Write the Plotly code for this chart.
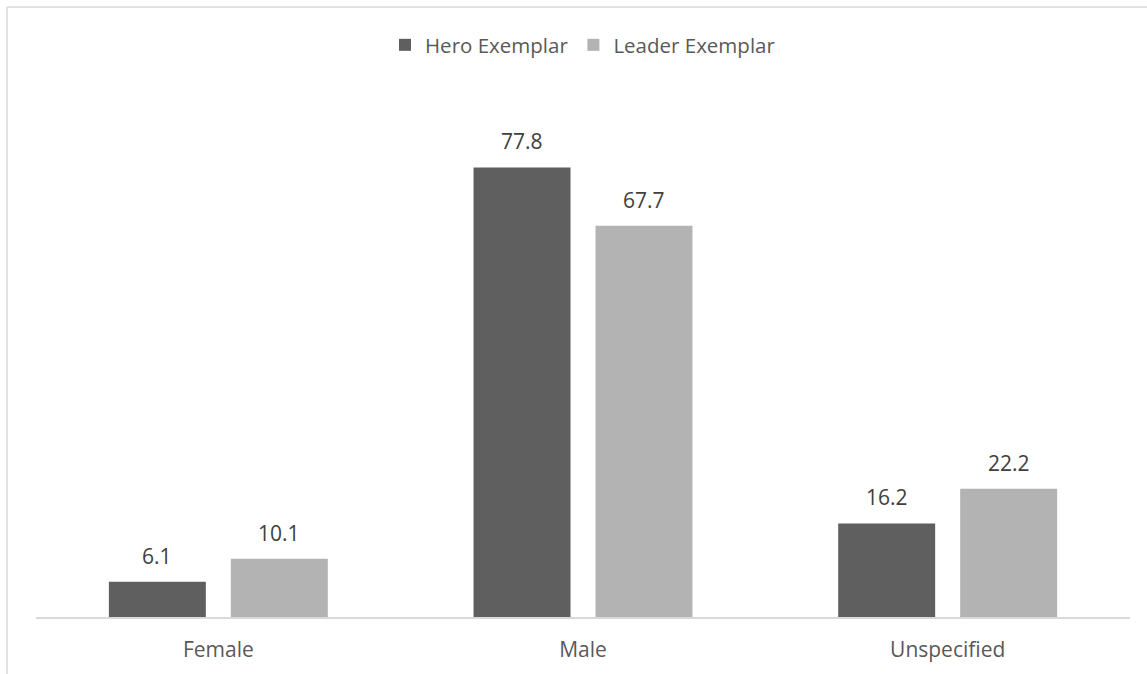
import plotly.graph_objects as go

categories = ["Female", "Male", "Unspecified"]
hero_values = [6.1, 77.8, 16.2]
leader_values = [10.1, 67.7, 22.2]

HERO_COLOR = "#5f5f5f"
LEADER_COLOR = "#b3b3b3"
TEXT_COLOR = "#595959"
LABEL_COLOR = "#404040"
LINE_COLOR = "#d9d9d9"
FONT = "Open Sans"

W, H = 1147, 674
ML, MR, MT, MB = 36, 17, 97, 57
PW = W - ML - MR
PH = H - MT - MB

fig = go.Figure()
fig.add_trace(go.Bar(name="Hero Exemplar", x=categories, y=hero_values,
                     marker=dict(color=HERO_COLOR, line=dict(width=0))))
fig.add_trace(go.Bar(name="Leader Exemplar", x=categories, y=leader_values,
                     marker=dict(color=LEADER_COLOR, line=dict(width=0))))

# value labels above each bar
slot_px = PW / len(categories) * (1 - 0.331) / 2
for vals, sign in ((hero_values, -1), (leader_values, 1)):
    for c, v in zip(categories, vals):
        fig.add_annotation(x=c, y=v, text=f"{v:.1f}", showarrow=False,
                           xanchor="center", yanchor="bottom",
                           xshift=sign * slot_px / 2, yshift=10,
                           font=dict(family=FONT, size=21, color=LABEL_COLOR))

# chart-area frame (top and left edges)
x0 = (7 - ML) / PW
x1 = (W - ML) / PW
ytop = (H - MB - 7) / PH
ybot = -(MB) / PH
fig.add_shape(type="line", xref="paper", yref="paper", x0=x0, x1=x1, y0=ytop, y1=ytop,
              line=dict(color=LINE_COLOR, width=1.5))
fig.add_shape(type="line", xref="paper", yref="paper", x0=x0, x1=x0, y0=ytop, y1=ybot,
              line=dict(color=LINE_COLOR, width=1.5))

fig.update_layout(
    width=W, height=H,
    margin=dict(l=ML, r=MR, t=MT, b=MB, pad=0),
    paper_bgcolor="white", plot_bgcolor="white",
    barmode="group", bargap=0.331, bargroupgap=0.205,
    font=dict(family=FONT, size=21, color=TEXT_COLOR),
    showlegend=True,
    legend=dict(orientation="h", x=0.5, xanchor="center",
                y=(H - MB - 45) / PH, yanchor="middle",
                font=dict(family=FONT, size=20.5, color=TEXT_COLOR),
                itemclick=False, traceorder="normal", itemwidth=30),
    xaxis=dict(showline=True, linecolor=LINE_COLOR, linewidth=1.5,
               showgrid=False, ticks="", ticklabelstandoff=13,
               tickfont=dict(family=FONT, size=21, color=TEXT_COLOR)),
    yaxis=dict(range=[0, 90], visible=False, showgrid=False, zeroline=False),
)

fig.write_html("out.html")
